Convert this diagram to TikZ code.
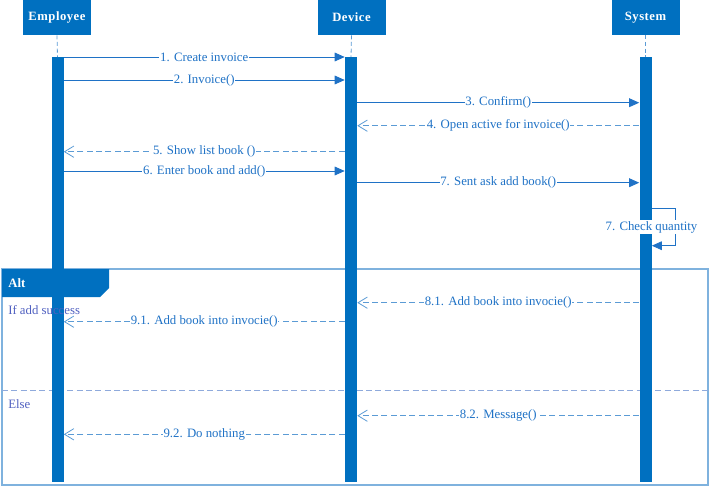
\documentclass[tikz,border=0pt]{standalone}
\usepackage{fontspec}
\setmainfont{Liberation Serif}
\usetikzlibrary{arrows.meta}
\definecolor{umlblue}{HTML}{0070C0}
\definecolor{msgblue}{HTML}{1F72C6}
\definecolor{retblue}{HTML}{5B9BD5}
\definecolor{framecol}{HTML}{7FB2DE}
\definecolor{guardline}{HTML}{8FAADC}
\definecolor{guardtext}{HTML}{5060C0}
\tikzset{
  head/.style={fill=umlblue, text=white, inner sep=0pt, minimum width=51pt, minimum height=26.25pt,
    font=\bfseries\addfontfeature{LetterSpace=4}\fontsize{9.5}{11}\selectfont},
  lifebar/.style={fill=umlblue, inner sep=0pt, minimum width=9pt, minimum height=318.75pt, anchor=north},
  lifeline/.style={draw=retblue, line width=0.6pt, dash pattern=on 3pt off 2pt},
  call/.style={draw=msgblue, line width=0.75pt, -{Triangle[length=7.5pt,width=6.5pt]}},
  reply/.style={draw=retblue, line width=0.6pt, dash pattern=on 4.5pt off 2.5pt, -{Straight Barb[length=7pt,width=8.5pt]}},
  lbl/.style={fill=white, text=msgblue, inner sep=0.6pt, font=\fontsize{9.6}{10}\selectfont},
  guard/.style={text=guardtext, anchor=west, inner sep=0pt, font=\fontsize{9.6}{10}\selectfont}
}
\begin{document}
\begin{tikzpicture}[x=0.75pt,y=-0.75pt]
\useasboundingbox (0,0) rectangle (709,486);
% participants
\node[head] (emp) at (57,17.5) {Employee};
\node[head] (dev) at (351.5,17.5) {Device};
\node[head] (sys) at (645.5,17.5) {System};
% alt frame
\draw[framecol, line width=0.9pt] (2,269) rectangle (708,485);
\fill[umlblue] (2,269) -- (109,269) -- (109,288) -- (100,297) -- (2,297) -- cycle;
\node[anchor=west, text=white, inner sep=0pt, font=\bfseries\fontsize{9.6}{10}\selectfont] (alt) at (8,283) {Alt};
\draw[guardline, line width=0.75pt, dash pattern=on 4.5pt off 2.5pt] (2,390.7) -- (708,390.7);
% activations
\node[lifebar] (empbar) at (57.5,57) {};
\node[lifebar] (devbar) at (351,57) {};
\node[lifebar] (sysbar) at (645.5,57) {};
\draw[lifeline] (emp.south) -- (empbar.north);
\draw[lifeline] (dev.south) -- (devbar.north);
\draw[lifeline] (sys.south) -- (sysbar.north);
\node[guard] (ifok) at (8,310) {If add success};
\node[guard] (else) at (8,404) {Else};
% messages
\draw[call] (empbar.east |- 0,57) -- node[lbl] {1. Create invoice} (devbar.west |- 0,57);
\draw[call] (empbar.east |- 0,80) -- node[lbl] {2. Invoice()} (devbar.west |- 0,80);
\draw[call] (devbar.east |- 0,102.7) -- node[lbl] {3. Confirm()} (sysbar.west |- 0,102.7);
\draw[reply] (sysbar.west |- 0,125.7) -- node[lbl] {4. Open active for invoice()} (devbar.east |- 0,125.7);
\draw[reply] (devbar.west |- 0,151.7) -- node[lbl] {5. Show list book ()} (empbar.east |- 0,151.7);
\draw[call] (empbar.east |- 0,171) -- node[lbl] {6. Enter book and add()} (devbar.west |- 0,171);
\draw[call] (devbar.east |- 0,182.7) -- node[lbl] {7. Sent ask add book()} (sysbar.west |- 0,182.7);
\coordinate (loop) at (675.7,227);
\draw[call, line width=0.6pt] (sysbar.east |- 0,208) -| (loop) |- (sysbar.east |- 0,245.7);
\node[lbl] (check) at (651.5,227) {7. Check quantity};
\draw[reply] (sysbar.west |- 0,302.7) -- node[lbl] {8.1. Add book into invocie()} (devbar.east |- 0,302.7);
\draw[reply] (devbar.west |- 0,321.7) -- node[lbl] {9.1. Add book into invocie()} (empbar.east |- 0,321.7);
\draw[reply] (sysbar.west |- 0,415.7) -- node[lbl] {8.2. Message()} (devbar.east |- 0,415.7);
\draw[reply] (devbar.west |- 0,434.3) -- node[lbl] {9.2. Do nothing} (empbar.east |- 0,434.3);
\end{tikzpicture}
\end{document}
